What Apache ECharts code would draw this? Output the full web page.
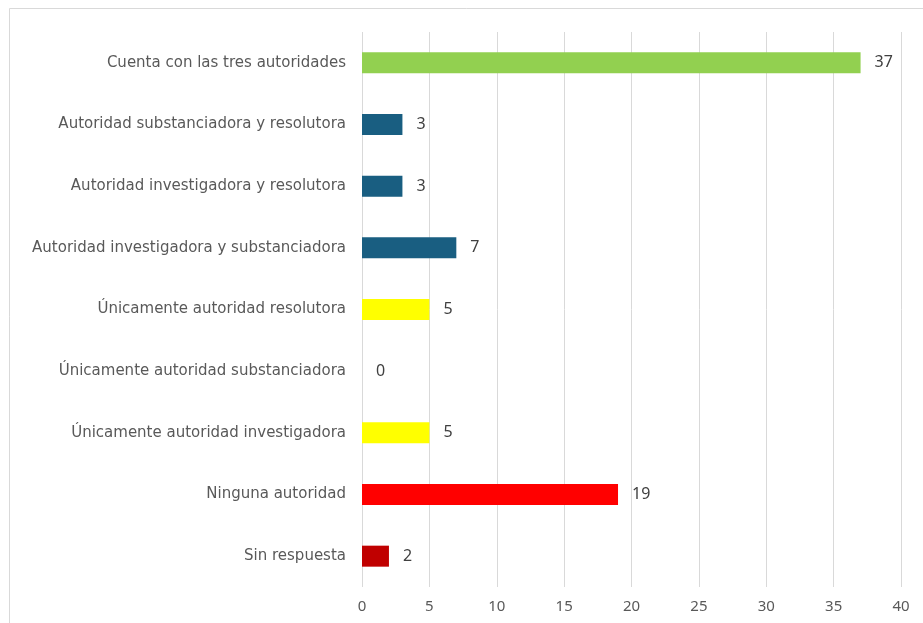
<!DOCTYPE html>
<html>
<head>
<meta charset="utf-8">
<script src="https://cdn.jsdelivr.net/npm/echarts@6/dist/echarts.min.js"></script>
<style>
html,body{margin:0;padding:0;background:#fff;}
#chart{width:923px;height:623px;}
</style>
</head>
<body>
<div id="chart"></div>
<script>
// ---- data ----
const categories = [
  "Cuenta con las tres autoridades",
  "Autoridad substanciadora y resolutora",
  "Autoridad investigadora y resolutora",
  "Autoridad investigadora y substanciadora",
  "Únicamente autoridad resolutora",
  "Únicamente autoridad substanciadora",
  "Únicamente autoridad investigadora",
  "Ninguna autoridad",
  "Sin respuesta"
];
const values = [37, 3, 3, 7, 5, 0, 5, 19, 2];
const xTicks = [0, 5, 10, 15, 20, 25, 30, 35, 40];

// ---- style ----
const barColors = ["#92D050", "#195E81", "#195E81", "#195E81", "#FFFF00", "#FFFF00", "#FFFF00", "#FF0000", "#C00000"];
const fontFam = "Noto Sans, Liberation Sans, sans-serif";
const catFont = "DejaVu Sans, Noto Sans, sans-serif";

const chart = echarts.init(document.getElementById('chart'), null, {renderer: 'canvas'});
chart.setOption({
  backgroundColor: '#ffffff',
  animation: false,
  graphic: [{
    type: 'rect',
    shape: {x: 9.5, y: 8.5, width: 940, height: 640},
    style: {fill: 'none', stroke: '#d9d9d9', lineWidth: 1},
    silent: true
  }],
  grid: {left: 362, right: 22, top: 32, bottom: 36, containLabel: false},
  xAxis: {
    type: 'value',
    min: xTicks[0],
    max: xTicks[xTicks.length - 1],
    interval: xTicks[1] - xTicks[0],
    axisLine: {show: false},
    axisTick: {show: false},
    splitLine: {show: true, lineStyle: {color: '#d9d9d9', width: 1}},
    axisLabel: {color: '#595959', fontSize: 15, fontFamily: fontFam, margin: 12}
  },
  yAxis: {
    type: 'category',
    data: categories,
    inverse: true,
    axisLine: {show: false},
    axisTick: {show: false},
    axisLabel: {color: '#595959', fontSize: 15, fontFamily: catFont, margin: 16}
  },
  series: [{
    type: 'bar',
    data: values.map((v, i) => ({value: v, itemStyle: {color: barColors[i]}})),
    barWidth: 21,
    label: {
      show: true,
      position: 'right',
      distance: 14,
      color: '#404040',
      fontSize: 16,
      fontFamily: fontFam
    }
  }]
});
</script>
</body>
</html>
